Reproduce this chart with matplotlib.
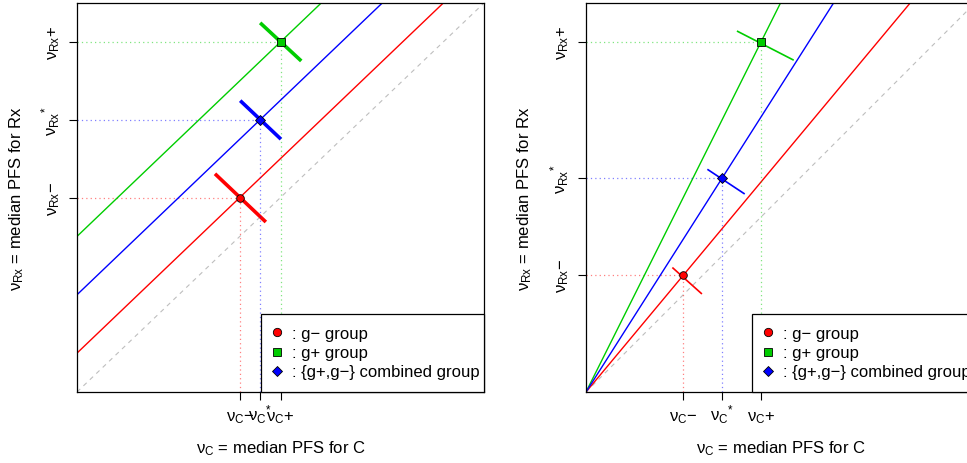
import matplotlib
matplotlib.use('Agg')
import matplotlib.pyplot as plt
from matplotlib.lines import Line2D

plt.rcParams['font.family'] = ['Liberation Sans', 'DejaVu Sans']
plt.rcParams['mathtext.fontset'] = 'custom'
plt.rcParams['mathtext.rm'] = 'Liberation Sans'
plt.rcParams['mathtext.it'] = 'Liberation Sans'
plt.rcParams['mathtext.default'] = 'regular'

# groups: g-, g+, combined
groups = [': g\u2212 group', ': g+ group', ': {g+,g\u2212} combined group']
colors = ['red', '#00CD00', 'blue']
markers = ['o', 's', 'D']

# left panel: parallel lines (slope 1)
left_x = [0.40, 0.50, 0.45]
left_y = [0.50, 0.90, 0.70]
left_seg_x0 = [0.339, 0.450, 0.401]
left_seg_y0 = [0.561, 0.949, 0.749]
left_seg_x1 = [0.464, 0.551, 0.501]
left_seg_y1 = [0.437, 0.851, 0.650]

# right panel: lines through origin
right_x = [0.25, 0.45, 0.35]
right_y = [0.30, 0.90, 0.55]
right_seg_x0 = [0.222, 0.388, 0.312]
right_seg_y0 = [0.320, 0.928, 0.5725]
right_seg_x1 = [0.298, 0.534, 0.408]
right_seg_y1 = [0.252, 0.853, 0.509]

# tick labels in ascending order: g-, combined, g+
xtick_labels = ['$ν_{C}$\u2212', '$ν_{C}{}^{*}$', '$ν_{C}$+']
ytick_labels = ['$ν_{Rx}$\u2212', '$ν_{Rx}{}^{*}$', '$ν_{Rx}$+']

fig = plt.figure(figsize=(9.67, 4.64), dpi=100)
ax1 = fig.add_axes([77 / 967, 71 / 464, 407 / 967, 389 / 464])
ax2 = fig.add_axes([586 / 967, 71 / 464, 389 / 967, 389 / 464])


def draw_panel(ax, xs, ys, sx0, sy0, sx1, sy1, through_origin, seg_lw, ylab_x, leg_x):
    ax.set_xlim(0, 1)
    ax.set_ylim(0, 1)
    ax.plot([0, 1], [0, 1], color='#BEBEBE', lw=0.8, ls=(0, (4, 4)))
    for i in range(3):
        c = colors[i]
        if through_origin:
            ax.axline((0, 0), (xs[i], ys[i]), color=c, lw=1.0)
        else:
            ax.axline((xs[i], ys[i]), slope=1, color=c, lw=1.0)
        ax.plot([0, xs[i]], [ys[i], ys[i]], color=c, lw=0.9, ls=(0, (1, 2.5)), alpha=0.5)
        ax.plot([xs[i], xs[i]], [0, ys[i]], color=c, lw=0.9, ls=(0, (1, 2.5)), alpha=0.5)
        ax.plot([sx0[i], sx1[i]], [sy0[i], sy1[i]], color=c, lw=seg_lw, solid_capstyle='butt')
        ax.plot(xs[i], ys[i], marker=markers[i], color=c, mec='black', mew=0.6,
                ms=5.5 if markers[i] != 'D' else 5, zorder=5)

    ax.set_xticks(sorted(xs))
    ax.set_xticklabels(xtick_labels, fontsize=12, va='baseline')
    ax.set_yticks(sorted(ys))
    ax.set_yticklabels(ytick_labels, fontsize=12, rotation=90)
    for t in ax.get_yticklabels():
        t.set_rotation_mode('anchor')
        t.set_ha('center')
        t.set_va('baseline')
    ax.tick_params(axis='x', length=5.8, width=0.8, pad=14.4)
    ax.tick_params(axis='y', length=5.8, width=0.8, pad=8.6)
    for s in ax.spines.values():
        s.set_linewidth(0.9)

    ax.set_xlabel('$ν_{C}$ = median PFS for C', fontsize=12)
    ax.xaxis.set_label_coords(0.5, -56 / 389)
    ax.xaxis.label.set_va('center')
    ax.set_ylabel('$ν_{Rx}$ = median PFS for Rx', fontsize=12)
    ax.yaxis.set_label_coords(ylab_x, 0.5)
    ax.yaxis.label.set_va('center')

    handles = [Line2D([], [], ls='none', marker=markers[i], color=colors[i], mec='black',
                      mew=0.6, ms=6 if markers[i] != 'D' else 5.5) for i in range(3)]
    leg = ax.legend(handles, groups, loc='lower left', mode='expand',
                    bbox_to_anchor=(leg_x, 0, 1 - leg_x, 0.3),
                    borderaxespad=0, fancybox=False, framealpha=1, edgecolor='black',
                    fontsize=12, handlelength=0.42, handletextpad=0.69,
                    labelspacing=0.25, borderpad=0.75)
    leg.get_frame().set_linewidth(0.9)
    leg.set_zorder(10)


draw_panel(ax1, left_x, left_y, left_seg_x0, left_seg_y0, left_seg_x1, left_seg_y1,
           False, 2.6, -60 / 407, 184 / 407)
draw_panel(ax2, right_x, right_y, right_seg_x0, right_seg_y0, right_seg_x1, right_seg_y1,
           True, 1.2, -61 / 389, 166 / 389)

fig.savefig('out.png', dpi=100)
